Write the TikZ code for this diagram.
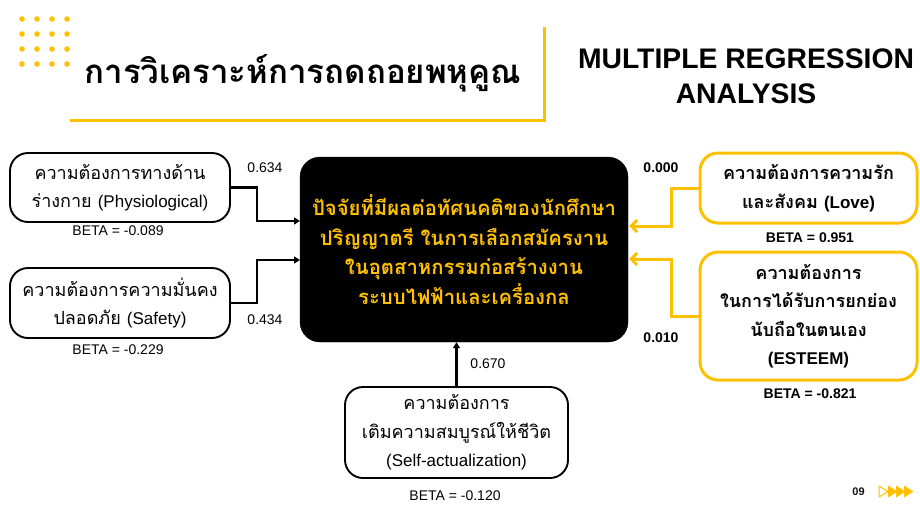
\documentclass[tikz,border=0pt]{standalone}
\usepackage{fontspec}
\setmainfont{Liberation Sans}
\newfontfamily\thai[Script=Thai]{Loma}
\newfontfamily\lat{Liberation Sans}
\usetikzlibrary{arrows.meta,calc}
\definecolor{ylw}{HTML}{FFC000}
\definecolor{ink}{HTML}{111111}
\newcommand\tightlns{\lineskiplimit=-30pt\relax}
\newcommand\latn[1]{{\lat\fontsize{17}{28.5}\selectfont #1}}
\tikzset{
  wbox/.style={draw=black, line width=1.9pt, rounded corners=18pt, fill=white, align=center,
    inner sep=0pt, font=\thai\fontsize{18}{28.5}\selectfont\tightlns},
  ybox/.style={draw=ylw, line width=3pt, rounded corners=18pt, fill=white, align=center,
    inner sep=0pt, font=\thai\bfseries\fontsize{18}{28.5}\selectfont\tightlns},
  cbox/.style={draw=black, fill=black, rounded corners=20pt, align=center, text=ylw,
    inner sep=0pt, font=\thai\bfseries\fontsize{20.3}{29.5}\selectfont\tightlns},
  blk/.style={line width=2.4pt, -{Triangle[length=6pt,width=7pt]}},
  yar/.style={draw=ylw, line width=3pt, -{Straight Barb[length=6pt,width=12pt,line width=3pt]}},
  num/.style={font=\lat\fontsize{14}{16}\selectfont, inner sep=0pt},
  bnum/.style={font=\lat\bfseries\fontsize{14}{16}\selectfont, inner sep=0pt},
  dot/.style={fill=ylw, draw=none},
}
\begin{document}
\begin{tikzpicture}[x=1pt,y=-1pt]
\useasboundingbox (0,0) rectangle (920,507);
% dots
\foreach \i in {22,37,52,67}{\foreach \j in {19,34,49,64}{\fill[dot] (\i,\j) circle (2.8);}}
% title frame
\draw[ylw, line width=3pt] (70,120) -- (544,120) -- (544,27);
\node[font=\thai\bfseries\fontsize{33}{36}\selectfont, anchor=center, inner sep=0pt] (title) at (303,73) {การวิเคราะห์การถดถอยพหุคูณ};
\node[font=\lat\bfseries\fontsize{28.3}{35}\selectfont, align=center, inner sep=0pt] (etitle) at (746,76) {MULTIPLE REGRESSION\\ANALYSIS};
% boxes
\node[cbox, minimum width=328pt, minimum height=185pt] (c) at (464,249.5) {ปัจจัยที่มีผลต่อทัศนคติของนักศึกษา\\ปริญญาตรี ในการเลือกสมัครงาน\\ในอุตสาหกรรมก่อสร้างงาน\\ระบบไฟฟ้าและเครื่องกล};
\node[wbox, minimum width=220pt, minimum height=69pt] (b1) at (120,187.5) {ความต้องการทางด้าน\\ร่างกาย \latn{(Physiological)}};
\node[wbox, minimum width=220pt, minimum height=70pt] (b2) at (120,303) {ความต้องการความมั่นคง\\ปลอดภัย \latn{(Safety)}};
\node[wbox, minimum width=223pt, minimum height=91pt] (b3) at (456.5,432.5) {ความต้องการ\\เติมความสมบูรณ์ให้ชีวิต\\\latn{(Self-actualization)}};
\node[ybox, minimum width=217pt, minimum height=70pt] (b4) at (808.5,188) {ความต้องการความรัก\\และสังคม \latn{\bfseries (Love)}};
\node[ybox, minimum width=217pt, minimum height=128pt] (b5) at (808.5,316) {ความต้องการ\\ในการได้รับการยกย่อง\\นับถือในตนเอง\\\latn{\bfseries (ESTEEM)}};
% connector end points on the centre box
\coordinate (e1) at (300,221);
\coordinate (e2) at (300,260);
\coordinate (e4) at (629,226);
\coordinate (e5) at (629,259);
\draw[blk] (b1.east) -- ++(26,0) |- (e1);
\draw[blk] (b2.east) -- ++(26,0) |- (e2);
\draw[blk] (b3.north) -- (b3.north |- c.south);
\draw[yar] (b4.west) -- ++(-27,0) |- (e4);
\draw[yar] (b5.west) -- ++(-27,0) |- (e5);
% labels
\node[num] (l1) at (265,168) {0.634};
\node[num] (l2) at (265,320) {0.434};
\node[num] (l3) at (488,364) {0.670};
\node[bnum] (l4) at (661,168) {0.000};
\node[bnum] (l5) at (661,338) {0.010};
\node[num] (t1) at (118,231) {BETA = -0.089};
\node[num] (t2) at (118,350) {BETA = -0.229};
\node[num] (t3) at (455,496) {BETA = -0.120};
\node[bnum] (t4) at (810,238) {BETA = 0.951};
\node[bnum] (t5) at (810,394) {BETA = -0.821};
% page number
\node[font=\lat\bfseries\fontsize{11}{12}\selectfont, text=ink, inner sep=0pt] (pg) at (858.5,491.5) {09};
\draw[ylw, line width=1pt, line join=round] (879,486) -- (888,491.5) -- (879,497) -- cycle;
\foreach \x in {888,896,904}{\fill[ylw] (\x,485.5) -- (\x+9.5,491.5) -- (\x,497.5) -- cycle;}
\end{tikzpicture}
\end{document}
